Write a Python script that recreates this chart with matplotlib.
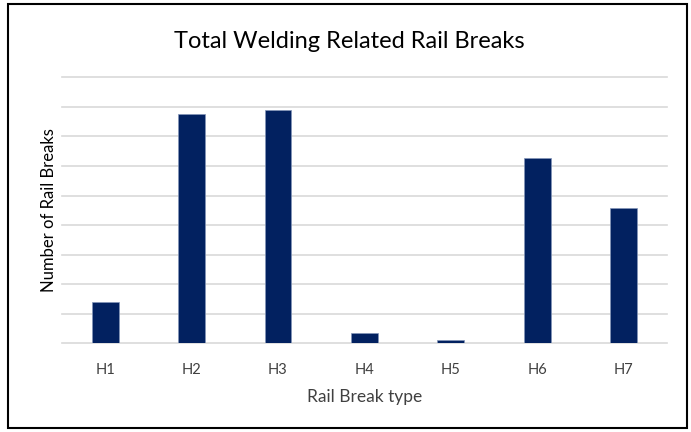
import matplotlib.pyplot as plt
from matplotlib.patches import Rectangle

categories = ['H1', 'H2', 'H3', 'H4', 'H5', 'H6', 'H7']
breaks = [1.41, 7.77, 7.88, 0.36, 0.12, 6.28, 4.58]
grid_ticks = list(range(0, 10))

plt.rcParams['font.family'] = ['Lato', 'DejaVu Sans']

fig = plt.figure(figsize=(6.91, 4.32), dpi=100)
ax = fig.add_axes([0.0897, 0.2053, 0.8753, 0.6157])

x = range(len(categories))
ax.bar(x, breaks, width=0.31, color='#022160', edgecolor='#8496b8', linewidth=0.5, zorder=3)
ax.set_xlim(-0.5, len(categories) - 0.5)
ax.set_ylim(0, 9)
ax.set_yticks(grid_ticks)
ax.set_yticklabels([])
ax.set_xticks(list(x))
ax.set_xticklabels(categories, fontsize=10.5, color='#404040')
ax.tick_params(axis='both', length=0)
ax.tick_params(axis='x', pad=14)
ax.grid(axis='y', color='#d9d9d9', linewidth=1.2, zorder=0)
for s in ax.spines.values():
    s.set_visible(False)
for gl in ax.get_ygridlines():
    gl.set_clip_on(False)

ax.set_xlabel('Rail Break type', fontsize=12.5, color='#404040', labelpad=9)
ax.set_ylabel('Number of Rail Breaks', fontsize=12, color='black', labelpad=0)
fig.text(0.505, 0.905, 'Total Welding Related Rail Breaks', ha='center', va='center',
         fontsize=17, color='black')

# outer border
fig.patches.append(Rectangle((8 / 691, 4 / 432), 679 / 691, 424 / 432, transform=fig.transFigure,
                             fill=False, edgecolor='black', linewidth=1.5))

fig.savefig('out.png', dpi=100)
